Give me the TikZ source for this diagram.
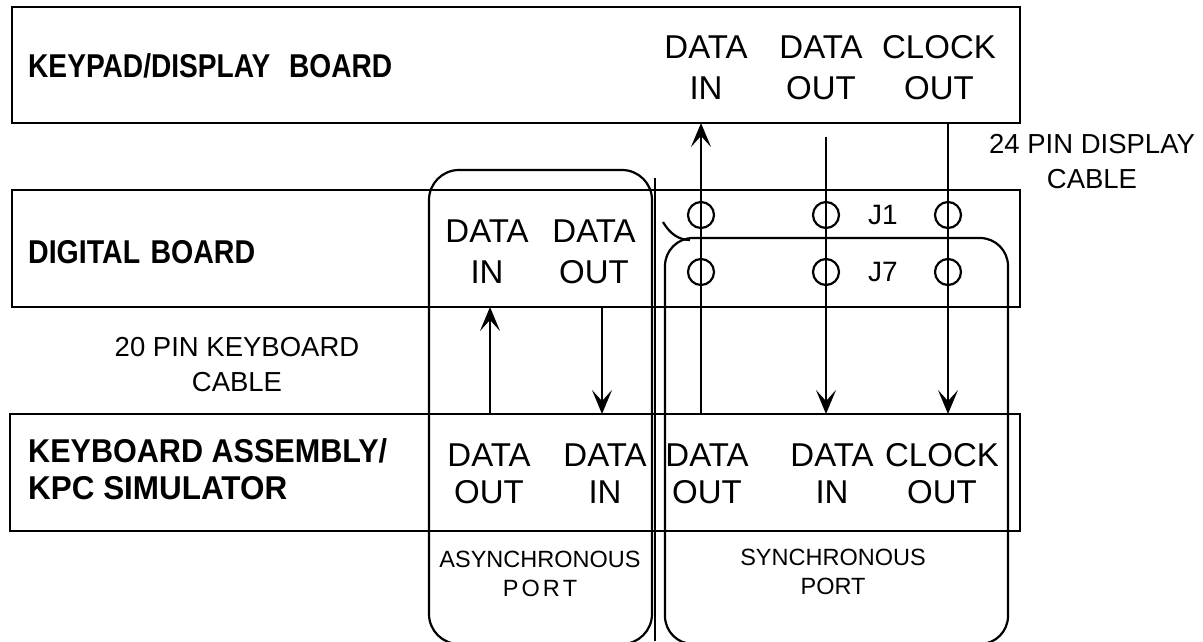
\documentclass[tikz,border=0pt]{standalone}
\usepackage{fontspec}
\setmainfont{Liberation Sans}
\usetikzlibrary{arrows.meta}
\newcommand\fitw[2]{\resizebox{#1}{\height}{#2}}
\begin{document}
\begin{tikzpicture}[x=1pt,y=-1pt,
  box/.style={draw, line width=2.6pt},
  thinbox/.style={draw, line width=2.2pt},
  wire/.style={line width=2.2pt},
  arr/.style={wire, -{Stealth[length=24pt,width=20pt,inset=11pt]}},
  lbl/.style={font=\fontsize{33}{41}\selectfont, align=center, inner sep=0pt},
  kblbl/.style={font=\fontsize{33}{37}\selectfont, align=center, inner sep=0pt},
  title/.style={font=\bfseries\fontsize{33}{38}\selectfont, inner sep=0pt, anchor=west},
  small/.style={font=\fontsize{27.5}{35}\selectfont, align=center, inner sep=0pt},
  port/.style={font=\fontsize{23.5}{29}\selectfont, align=center, inner sep=0pt},
  pin/.style={circle, draw, line width=2.2pt, minimum width=24pt, minimum height=26pt, inner sep=0pt}]
\useasboundingbox (0,0) rectangle (1203,641);
% boards
\draw[box] (12,7) rectangle (1020,123);
\draw[thinbox] (12,190) rectangle (1020,307);
\draw[box] (10,414) rectangle (1020,531);
% port outlines
\draw[wire, rounded corners=30pt] (429,170) rectangle (652,644);
\draw[wire, rounded corners=28pt] (665,238) rectangle (1008,644);
\draw[wire] (655,178) -- (655,641);
\draw[wire] (663,222) .. controls (670,234) and (679,240) .. (690,240);
% titles
\node[title] (kpT) at (28,66) {\fitw{364pt}{KEYPAD/DISPLAY\hspace{22pt}BOARD}};
\node[title] (dgT) at (28,252) {\fitw{227pt}{DIGITAL\hspace{12pt}BOARD}};
\node[title] (kbT1) at (28,451) {\fitw{359pt}{KEYBOARD ASSEMBLY/}};
\node[title] (kbT2) at (28,488) {\fitw{259pt}{KPC SIMULATOR}};
% keypad labels
\node[lbl] (kpDIl) at (706,68) {DATA\\IN};
\node[lbl] (kpDOl) at (821,68) {DATA\\OUT};
\node[lbl] (kpCOl) at (939,68) {CLOCK\\OUT};
% digital labels
\node[lbl] (dgDIl) at (487,252) {DATA\\IN};
\node[lbl] (dgDOl) at (594,252) {DATA\\OUT};
% connector pins
\foreach \px/\nm in {701/a,826/b,948/c}{
  \node[pin] (j1\nm) at (\px,215) {};
  \node[pin] (j7\nm) at (\px,272) {};
}
\node[font=\fontsize{28}{30}\selectfont, inner sep=0pt] (j1l) at (883,215) {J1};
\node[font=\fontsize{28}{30}\selectfont, inner sep=0pt] (j7l) at (883,272) {J7};
% keyboard labels
\node[kblbl] (kbAOl) at (489,474) {DATA\\OUT};
\node[kblbl] (kbAIl) at (605,474) {DATA\\IN};
\node[kblbl] (kbSOl) at (707,474) {DATA\\OUT};
\node[kblbl] (kbSIl) at (832,474) {DATA\\IN};
\node[kblbl] (kbSCl) at (942,474) {CLOCK\\OUT};
% cable labels
\node[small] (dispcab) at (1092,162) {24 PIN DISPLAY\\CABLE};
\node[small] (kbcab) at (237,365) {20 PIN KEYBOARD\\CABLE};
% port labels
\node[port] (asyl) at (540,574) {ASYNCHRONOUS\\P\hspace{3pt}O\hspace{3pt}R\hspace{3pt}T};
\node[port] (syl) at (833,572) {SYNCHRONOUS\\PORT};
% connectors
\coordinate (kpDI) at (701,123); \coordinate (kbSO) at (701,414);
\coordinate (kpDO) at (826,137); \coordinate (kbDI) at (826,414);
\coordinate (kpCO) at (948,123); \coordinate (kbCO) at (948,414);
\coordinate (dgDI) at (490,307); \coordinate (kbAO) at (490,414);
\coordinate (dgDO) at (602,307); \coordinate (kbAI) at (602,414);
\draw[arr] (kbSO) -- (kpDI);
\draw[arr] (kpDO) -- (kbDI);
\draw[arr] (kpCO) -- (kbCO);
\draw[arr] (kbAO) -- (dgDI);
\draw[arr] (dgDO) -- (kbAI);
\end{tikzpicture}
\end{document}
